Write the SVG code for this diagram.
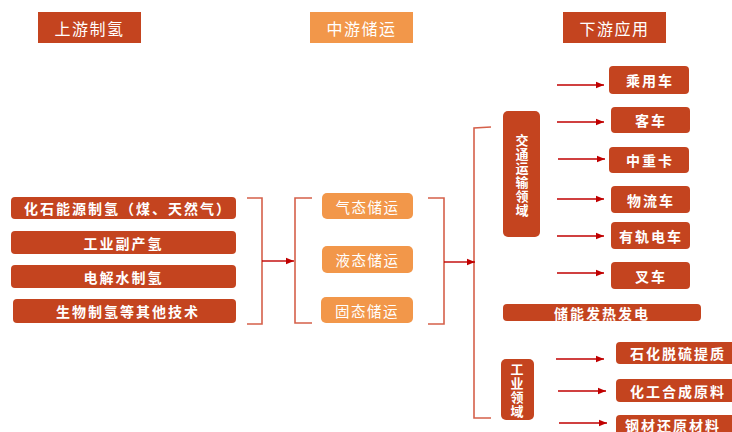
<svg xmlns="http://www.w3.org/2000/svg" width="732" height="432" viewBox="0 0 732 432">
<style>
.r{fill:#C4441F}
.o{fill:#F2974A}
text{font-family:"Noto Sans CJK SC","Noto Sans",sans-serif;fill:#FFFFFF;text-anchor:middle;dominant-baseline:central}
.h{font-size:16px;letter-spacing:1.5px}
.l{font-size:14px;font-weight:bold;letter-spacing:2px}
.m{font-size:14.5px;letter-spacing:1.5px}
.s{font-size:14px;font-weight:bold;letter-spacing:2px}
.v{font-size:13px;font-weight:bold;writing-mode:vertical-rl;letter-spacing:1px}
.br{fill:none;stroke:#D5604A;stroke-width:1.6}
.ar{fill:none;stroke:#C00000;stroke-width:1.4;marker-end:url(#a)}
</style>
<defs>
<marker id="a" viewBox="0 0 10 10" refX="10" refY="5" markerWidth="8" markerHeight="8" markerUnits="userSpaceOnUse" orient="auto"><path d="M0,1 L10,5 L0,9 z" fill="#C00000"/></marker>
</defs>
<rect width="732" height="432" fill="#FFFFFF"/>
<g id="h1"><rect class="r" x="38" y="12" width="103" height="31"/><text class="h" x="89.5" y="27.5">上游制氢</text></g>
<g id="h2"><rect class="o" x="310" y="12" width="103" height="31"/><text class="h" x="361.5" y="27.5">中游储运</text></g>
<g id="h3"><rect class="r" x="563" y="12" width="103" height="31"/><text class="h" x="614.5" y="27.5">下游应用</text></g>

<g id="u1"><rect class="r" x="11" y="197" width="225" height="22" rx="4"/><text class="l" x="128" y="208">化石能源制氢（煤、天然气）</text></g>
<g id="u2"><rect class="r" x="11" y="231" width="225" height="23" rx="4"/><text class="l" x="123.5" y="242.5">工业副产氢</text></g>
<g id="u3"><rect class="r" x="11" y="265" width="225" height="23" rx="4"/><text class="l" x="123.5" y="276.5">电解水制氢</text></g>
<g id="u4"><rect class="r" x="13" y="299" width="223" height="24" rx="4"/><text class="l" x="128" y="311">生物制氢等其他技术</text></g>

<g id="m1"><rect class="o" x="322" y="193" width="91" height="26" rx="5"/><text class="m" x="367.5" y="206">气态储运</text></g>
<g id="m2"><rect class="o" x="322" y="246" width="91" height="27" rx="5"/><text class="m" x="367.5" y="259.5">液态储运</text></g>
<g id="m3"><rect class="o" x="321" y="297" width="92" height="26" rx="5"/><text class="m" x="367" y="310">固态储运</text></g>

<g id="d0"><rect class="r" x="503" y="111" width="37" height="126" rx="5"/>
<text class="v" x="522" y="176">交通运输领域</text></g>
<g id="d1"><rect class="r" x="609" y="66" width="80" height="28" rx="4"/><text class="s" x="650" y="80">乘用车</text></g>
<g id="d2"><rect class="r" x="611" y="107" width="79" height="26" rx="4"/><text class="s" x="651" y="120">客车</text></g>
<g id="d3"><rect class="r" x="609" y="147" width="80" height="26" rx="4"/><text class="s" x="650" y="160">中重卡</text></g>
<g id="d4"><rect class="r" x="611" y="186" width="79" height="27" rx="4"/><text class="s" x="651" y="199.5">物流车</text></g>
<g id="d5"><rect class="r" x="611" y="222" width="79" height="27" rx="4"/><text class="s" x="651" y="235.5">有轨电车</text></g>
<g id="d6"><rect class="r" x="611" y="262" width="79" height="27" rx="4"/><text class="s" x="651" y="275.5">叉车</text></g>
<g id="d7"><rect class="r" x="503" y="304" width="198" height="17" rx="4"/><text class="s" x="602" y="312.5">储能发热发电</text></g>
<g id="d8"><rect class="r" x="501" y="359" width="33" height="61" rx="5"/>
<text class="v" x="517" y="391">工业领域</text></g>
<g id="d9"><rect class="r" x="616" y="342" width="120" height="22" rx="4"/><text class="s" x="678" y="353">石化脱硫提质</text></g>
<g id="d10"><rect class="r" x="616" y="379" width="120" height="23" rx="4"/><text class="s" x="678" y="390.5">化工合成原料</text></g>
<g id="d11"><rect class="r" x="616" y="415" width="120" height="24" rx="4"/><text class="s" x="673" y="425">钢材还原材料</text></g>

<g id="connectors">
<path class="br" d="M247,198 H262 V324 H247"/>
<path class="br" d="M312,198 H295 V323 H312"/>
<path class="br" d="M428,198 H444 V324 H428"/>
<path class="br" d="M491,127 L474,128 V418 H491"/>
<path class="ar" d="M262,261 H294"/>
<path class="ar" d="M444,262 H475"/>
<path class="ar" d="M557,85 H604"/>
<path class="ar" d="M557,122 H604"/>
<path class="ar" d="M558,159 H605"/>
<path class="ar" d="M557,199 H604"/>
<path class="ar" d="M557,236 H604"/>
<path class="ar" d="M557,273 H604"/>
<path class="ar" d="M556,359 H604"/>
<path class="ar" d="M558,391 H606"/>
<path class="ar" d="M559,423 H607"/>
</g>
</svg>
